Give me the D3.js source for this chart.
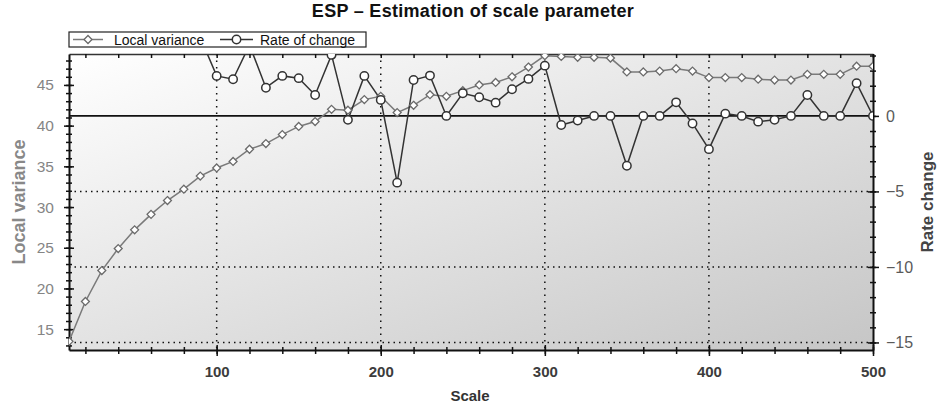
<!DOCTYPE html>
<html>
<head>
<meta charset="utf-8">
<script src="https://cdn.jsdelivr.net/npm/d3@7"></script>
<style>
  body { margin: 0; background: #fff; }
  svg { display: block; font-family: "Liberation Sans", Arial, sans-serif; }
</style>
</head>
<body>
<div id="chart-area"></div>
<script>
// dados
const scales = d3.range(10, 501, 10);
const localVariance = [13.5, 18.4, 22.2, 24.9, 27.2, 29.1, 30.8, 32.2, 33.8, 34.8,
    35.6, 37.1, 37.8, 38.9, 39.9, 40.5, 42.0, 41.9, 43.2, 43.6,
    41.6, 42.5, 43.8, 43.6, 44.3, 45.0, 45.3, 46.0, 47.2, 48.6,
    48.5, 48.4, 48.4, 48.3, 46.6, 46.6, 46.7, 47.0, 46.7, 45.9,
    45.9, 45.9, 45.7, 45.6, 45.6, 46.3, 46.3, 46.3, 47.3, 47.3];
const rateOfChange = [null, 36, 20, 12.5, 9, 7, 5.8, 4.5, 5.2, 2.65,
    2.43, 4.7, 1.87, 2.65, 2.5, 1.39, 4.04, -0.26, 2.65, 1.06,
    -4.42, 2.38, 2.67, 0, 1.5, 1.24, 0.88, 1.77, 2.45, 3.33,
    -0.6, -0.3, 0, 0, -3.3, 0, 0, 0.9, -0.5, -2.2,
    0.15, 0, -0.38, -0.26, 0, 1.39, 0, 0, 2.17, 0];
const xTicks = [100, 200, 300, 400, 500];
const leftTicks = [15, 20, 25, 30, 35, 40, 45];
const rightTicks = [-15, -10, -5, 0];

const width = 938, height = 411;
const margin = { top: 54, right: 65, bottom: 61, left: 69 };
const innerWidth = width - margin.left - margin.right;
const innerHeight = height - margin.top - margin.bottom;

const svg = d3.select('#chart-area').append('svg')
    .attr('width', width)
    .attr('height', height);

// gradiente do fundo
const defs = svg.append('defs');
const grad = defs.append('linearGradient')
    .attr('id', 'bg')
    .attr('x1', 0).attr('y1', 0).attr('x2', 1).attr('y2', 1);
grad.append('stop').attr('offset', '0%').attr('stop-color', '#ffffff');
grad.append('stop').attr('offset', '100%').attr('stop-color', '#c6c6c6');

defs.append('clipPath').attr('id', 'clip')
    .append('rect').attr('width', innerWidth).attr('height', innerHeight);

const g = svg.append('g')
    .attr('transform', `translate(${margin.left}, ${margin.top})`);

g.append('rect')
    .attr('width', innerWidth)
    .attr('height', innerHeight)
    .attr('fill', 'url(#bg)');

// escalas
const xScale = d3.scaleLinear().domain([10, 500]).range([0, innerWidth]);
const yLeft = d3.scaleLinear().domain([12.44, 48.8]).range([innerHeight, 0]);
const yRight = d3.scaleLinear().domain([-15.5, 4.1]).range([innerHeight, 0]);

// grade pontilhada
g.selectAll('.vgrid').data([100, 200, 300, 400]).enter().append('line')
    .attr('x1', d => xScale(d)).attr('x2', d => xScale(d))
    .attr('y1', 0).attr('y2', innerHeight)
    .attr('stroke', '#111').attr('stroke-width', 1.5)
    .attr('stroke-dasharray', '1.5,5');
g.selectAll('.hgrid').data([-15, -10, -5]).enter().append('line')
    .attr('x1', 0).attr('x2', innerWidth)
    .attr('y1', d => yRight(d)).attr('y2', d => yRight(d))
    .attr('stroke', '#111').attr('stroke-width', 1.5)
    .attr('stroke-dasharray', '1.5,4');

// linha do zero
g.append('line')
    .attr('x1', 0).attr('x2', innerWidth)
    .attr('y1', yRight(0)).attr('y2', yRight(0))
    .attr('stroke', '#111').attr('stroke-width', 1.6);

// marcações menores (sem texto)
function minorTicks(sel, horizontal, a, b) {
    sel.selectAll('.tick text').remove();
    sel.selectAll('.tick line')
        .attr(horizontal ? 'y1' : 'x1', a).attr(horizontal ? 'y2' : 'x2', b)
        .attr('stroke', '#111').attr('stroke-width', 1.5);
}

// eixo de baixo
const bottomMinor = g.append('g')
    .attr('transform', `translate(0, ${innerHeight})`)
    .call(d3.axisBottom(xScale).tickValues(d3.range(20, 501, 20)).tickSize(0));
minorTicks(bottomMinor, true, -3, 4);
bottomMinor.select('.domain').attr('stroke', '#111').attr('stroke-width', 2);

const bottomMajor = g.append('g')
    .attr('transform', `translate(0, ${innerHeight})`)
    .call(d3.axisBottom(xScale).tickValues(xTicks).tickSize(0).tickPadding(16));
bottomMajor.select('.domain').remove();
bottomMajor.selectAll('.tick line').attr('y1', -5).attr('y2', 6).attr('stroke', '#111').attr('stroke-width', 1.5);
bottomMajor.selectAll('text').attr('font-size', '15px').attr('font-weight', 'bold').attr('fill', '#3c3c3c');

// borda de cima com marcações
const topAxis = g.append('g')
    .call(d3.axisTop(xScale).tickValues(d3.range(20, 501, 20)).tickSize(0));
minorTicks(topAxis, true, 0, 4);
topAxis.select('.domain').attr('stroke', '#333').attr('stroke-width', 1.5);

// eixo da esquerda
const leftMinor = g.append('g')
    .call(d3.axisLeft(yLeft).tickValues(d3.range(13, 49)).tickSize(0));
minorTicks(leftMinor, false, -3, 3);
leftMinor.select('.domain').attr('stroke', '#111').attr('stroke-width', 2);

const leftMajor = g.append('g')
    .call(d3.axisLeft(yLeft).tickValues(leftTicks).tickSize(0).tickPadding(15));
leftMajor.select('.domain').remove();
leftMajor.selectAll('.tick line').attr('x1', -5).attr('x2', 5).attr('stroke', '#111').attr('stroke-width', 1.5);
leftMajor.selectAll('text').attr('font-size', '15.5px').attr('fill', '#858585');

// eixo da direita
const rightMinor = g.append('g')
    .attr('transform', `translate(${innerWidth}, 0)`)
    .call(d3.axisRight(yRight).tickValues(d3.range(-15, 5)).tickSize(0));
minorTicks(rightMinor, false, -3, 3);
rightMinor.select('.domain').attr('stroke', '#111').attr('stroke-width', 2);

const rightMajor = g.append('g')
    .attr('transform', `translate(${innerWidth}, 0)`)
    .call(d3.axisRight(yRight).tickValues(rightTicks).tickSize(0).tickPadding(13));
rightMajor.select('.domain').remove();
rightMajor.selectAll('.tick line').attr('x1', -5).attr('x2', 6).attr('stroke', '#111').attr('stroke-width', 1.5);
rightMajor.selectAll('text').attr('font-size', '16px').attr('fill', '#5a5a5a');

// séries
const plot = g.append('g').attr('clip-path', 'url(#clip)');

const lvData = scales.map((s, i) => ({ x: s, y: localVariance[i] }));
const rcData = scales.map((s, i) => ({ x: s, y: rateOfChange[i] }));

plot.append('path')
    .datum(lvData)
    .attr('fill', 'none')
    .attr('stroke', '#7a7a7a')
    .attr('stroke-width', 1.5)
    .attr('d', d3.line().x(d => xScale(d.x)).y(d => yLeft(d.y)));

plot.append('path')
    .datum(rcData)
    .attr('fill', 'none')
    .attr('stroke', '#333')
    .attr('stroke-width', 1.5)
    .attr('d', d3.line().defined(d => d.y !== null).x(d => xScale(d.x)).y(d => yRight(d.y)));

const diamond = d3.symbol().type(d3.symbolDiamond2).size(40);

plot.selectAll('.lv').data(lvData).enter().append('path')
    .attr('transform', d => `translate(${xScale(d.x)}, ${yLeft(d.y)})`)
    .attr('d', diamond)
    .attr('fill', '#fff')
    .attr('stroke', '#6a6a6a')
    .attr('stroke-width', 1.3);

plot.selectAll('.rc').data(rcData.filter(d => d.y !== null)).enter().append('circle')
    .attr('cx', d => xScale(d.x))
    .attr('cy', d => yRight(d.y))
    .attr('r', 4.2)
    .attr('fill', '#fff')
    .attr('stroke', '#333')
    .attr('stroke-width', 1.5);

// títulos
svg.append('text')
    .attr('x', 473).attr('y', 17)
    .attr('text-anchor', 'middle')
    .attr('font-size', '18px').attr('font-weight', 'bold')
    .attr('letter-spacing', '0.3px')
    .attr('fill', '#111')
    .text('ESP – Estimation of scale parameter');

svg.append('text')
    .attr('x', 470).attr('y', 401)
    .attr('text-anchor', 'middle')
    .attr('font-size', '15px').attr('font-weight', 'bold')
    .attr('fill', '#333')
    .text('Scale');

svg.append('text')
    .attr('transform', `translate(25, ${margin.top + innerHeight / 2}) rotate(-90)`)
    .attr('text-anchor', 'middle')
    .attr('font-size', '18px').attr('font-weight', 'bold')
    .attr('fill', '#888')
    .text('Local variance');

svg.append('text')
    .attr('transform', `translate(933, ${margin.top + innerHeight / 2}) rotate(-90)`)
    .attr('text-anchor', 'middle')
    .attr('font-size', '17px').attr('font-weight', 'bold')
    .attr('fill', '#444')
    .text('Rate change');

// legenda
const legend = svg.append('g');
legend.append('rect')
    .attr('x', 69).attr('y', 32).attr('width', 297).attr('height', 15)
    .attr('fill', '#fff').attr('stroke', '#222').attr('stroke-width', 1.2);

legend.append('line')
    .attr('x1', 73).attr('x2', 103).attr('y1', 39.5).attr('y2', 39.5)
    .attr('stroke', '#7a7a7a').attr('stroke-width', 1.5);
legend.append('path')
    .attr('transform', 'translate(88, 39.5)')
    .attr('d', diamond)
    .attr('fill', '#fff').attr('stroke', '#6a6a6a').attr('stroke-width', 1.3);
legend.append('text')
    .attr('x', 114).attr('y', 44.5)
    .attr('font-size', '14px').attr('fill', '#111')
    .text('Local variance');

legend.append('line')
    .attr('x1', 220).attr('x2', 253).attr('y1', 39.5).attr('y2', 39.5)
    .attr('stroke', '#333').attr('stroke-width', 1.5);
legend.append('circle')
    .attr('cx', 236.5).attr('cy', 39.5).attr('r', 4.2)
    .attr('fill', '#fff').attr('stroke', '#333').attr('stroke-width', 1.5);
legend.append('text')
    .attr('x', 260).attr('y', 44.5)
    .attr('font-size', '14px').attr('fill', '#111')
    .text('Rate of change');
</script>
</body>
</html>
